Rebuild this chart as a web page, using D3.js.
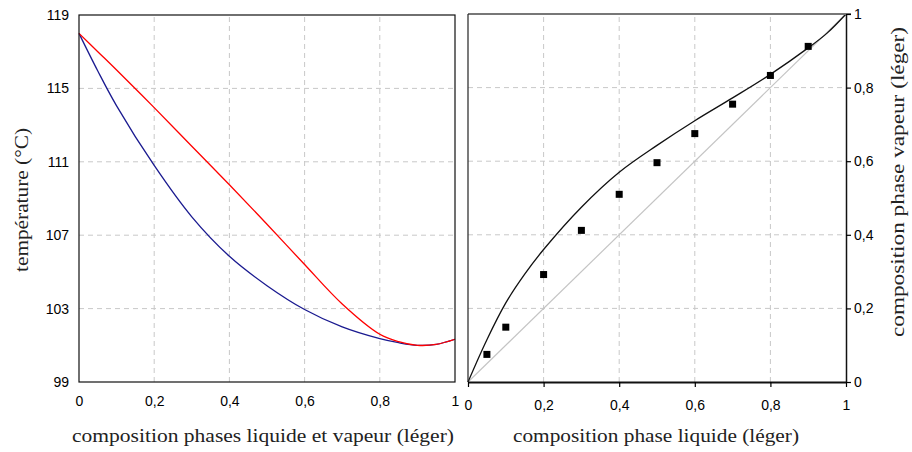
<!DOCTYPE html>
<html>
<head>
<meta charset="utf-8">
<script src="https://cdn.jsdelivr.net/npm/d3@7"></script>
<style>
	body { margin: 0; background: #fff; }
	.tick-label { font-family: "Liberation Sans", Arial, sans-serif; font-size: 14px; fill: #000; }
	.titre { font-family: "Liberation Serif", "DejaVu Serif", serif; font-size: 19px; fill: #222; }
	.grille { stroke: #c8c8c8; stroke-width: 1; stroke-dasharray: 5,4; fill: none; }
</style>
</head>
<body>
<svg id="chart" width="912" height="452"></svg>
<script>
/* global d3 */

// composition en leger (abscisse commune des deux courbes de temperature)
var compo = [0, 0.05, 0.1, 0.2, 0.3, 0.4, 0.5, 0.6, 0.7, 0.8, 0.85, 0.9, 0.95, 1];
var tempRosee = [118.0, 117.0, 116.0, 113.95, 111.85, 109.75, 107.6, 105.4, 103.25, 101.6, 101.2, 101.0, 101.05, 101.33];
var tempBulle = [118.0, 115.95, 114.05, 110.8, 108.0, 105.85, 104.25, 102.95, 102.0, 101.36, 101.14, 101.0, 101.05, 101.33];

// courbe d'equilibre y = f(x)
var xEquil = [0, 0.05, 0.1, 0.15, 0.2, 0.3, 0.4, 0.5, 0.6, 0.7, 0.8, 0.9, 0.95, 1];
var yEquil = [0, 0.115, 0.215, 0.293, 0.36, 0.475, 0.57, 0.643, 0.71, 0.772, 0.836, 0.908, 0.948, 1];

// points mesures
var xMesure = [0.05, 0.1, 0.2, 0.3, 0.4, 0.5, 0.6, 0.7, 0.8, 0.9];
var yMesure = [0.075, 0.149, 0.292, 0.412, 0.51, 0.596, 0.675, 0.755, 0.833, 0.912];

var tempTicks = [99, 103, 107, 111, 115, 119];
var compoTicks = [0, 0.2, 0.4, 0.6, 0.8, 1];

var svg = d3.select("#chart"),
	fr = d3.formatLocale({ decimal: ",", thousands: " ", grouping: [3], currency: ["", " €"] }),
	fmt = fr.format("~g"),
	courbe = d3.curveCatmullRom.alpha(0.5);

function zip(xs, ys) {
	return xs.map(function(x, i) { return [x, ys[i]]; });
}

// ---------- graphe de gauche : temperatures ----------
var xG = d3.scaleLinear().domain([0, 1]).range([79, 455]),
	yG = d3.scaleLinear().domain([99, 119]).range([382, 15]);

var gauche = svg.append("g");

gauche.selectAll("line.v")
	.data(compoTicks.slice(1, -1))
	.enter().append("line")
	.attr("class", "grille")
	.attr("x1", function(d) { return xG(d); })
	.attr("x2", function(d) { return xG(d); })
	.attr("y1", yG(99))
	.attr("y2", yG(119));

gauche.selectAll("line.h")
	.data(tempTicks.slice(1, -1))
	.enter().append("line")
	.attr("class", "grille")
	.attr("x1", xG(0))
	.attr("x2", xG(1))
	.attr("y1", function(d) { return yG(d); })
	.attr("y2", function(d) { return yG(d); });

var ligneG = d3.line()
	.x(function(d) { return xG(d[0]); })
	.y(function(d) { return yG(d[1]); })
	.curve(courbe);

gauche.append("path")
	.datum(zip(compo, tempBulle))
	.attr("fill", "none")
	.attr("stroke", "#1a1a90")
	.attr("stroke-width", 1.3)
	.attr("d", ligneG);

gauche.append("path")
	.datum(zip(compo, tempRosee))
	.attr("fill", "none")
	.attr("stroke", "#ff0000")
	.attr("stroke-width", 1.3)
	.attr("d", ligneG);

gauche.append("rect")
	.attr("x", xG(0))
	.attr("y", yG(119))
	.attr("width", xG(1) - xG(0))
	.attr("height", yG(99) - yG(119))
	.attr("fill", "none")
	.attr("stroke", "#111")
	.attr("stroke-width", 1.2);

gauche.append("g")
	.attr("transform", "translate(" + (xG(0) - 10) + ",0)")
	.call(d3.axisLeft(yG).tickValues(tempTicks).tickSize(0).tickPadding(0).tickFormat(fmt))
	.call(function(g) { g.select(".domain").remove(); })
	.selectAll("text").attr("class", "tick-label").attr("font-size", null).attr("font-family", null);

gauche.append("g")
	.attr("transform", "translate(0," + (yG(99) + 14) + ")")
	.call(d3.axisBottom(xG).tickValues(compoTicks).tickSize(0).tickPadding(0).tickFormat(fmt))
	.call(function(g) { g.select(".domain").remove(); })
	.selectAll("text").attr("class", "tick-label").attr("font-size", null).attr("font-family", null);

gauche.append("text")
	.attr("class", "titre")
	.attr("x", 263)
	.attr("y", 442)
	.attr("text-anchor", "middle")
	.attr("textLength", 382)
	.attr("lengthAdjust", "spacingAndGlyphs")
	.text("composition phases liquide et vapeur (léger)");

gauche.append("text")
	.attr("class", "titre")
	.attr("transform", "translate(28,200) rotate(-90)")
	.attr("text-anchor", "middle")
	.attr("textLength", 144)
	.attr("lengthAdjust", "spacingAndGlyphs")
	.text("température (°C)");

// ---------- graphe de droite : equilibre x-y ----------
var xD = d3.scaleLinear().domain([0, 1]).range([468, 846]),
	yD = d3.scaleLinear().domain([0, 1]).range([382, 14]);

var droite = svg.append("g");

droite.selectAll("line.v")
	.data(compoTicks.slice(1, -1))
	.enter().append("line")
	.attr("class", "grille")
	.attr("x1", function(d) { return xD(d); })
	.attr("x2", function(d) { return xD(d); })
	.attr("y1", yD(0))
	.attr("y2", yD(1));

droite.selectAll("line.h")
	.data(compoTicks.slice(1, -1))
	.enter().append("line")
	.attr("class", "grille")
	.attr("x1", xD(0))
	.attr("x2", xD(1))
	.attr("y1", function(d) { return yD(d); })
	.attr("y2", function(d) { return yD(d); });

// diagonale y = x
droite.append("line")
	.attr("x1", xD(0)).attr("y1", yD(0))
	.attr("x2", xD(1)).attr("y2", yD(1))
	.attr("stroke", "#c4c4c4")
	.attr("stroke-width", 1.2);

droite.append("path")
	.datum(zip(xEquil, yEquil))
	.attr("fill", "none")
	.attr("stroke", "#111")
	.attr("stroke-width", 1.3)
	.attr("d", d3.line()
		.x(function(d) { return xD(d[0]); })
		.y(function(d) { return yD(d[1]); })
		.curve(courbe));

droite.selectAll("rect.pt")
	.data(zip(xMesure, yMesure))
	.enter().append("rect")
	.attr("x", function(d) { return xD(d[0]) - 3.5; })
	.attr("y", function(d) { return yD(d[1]) - 3.5; })
	.attr("width", 7)
	.attr("height", 7)
	.attr("fill", "#000");

// cadre : haut gris, gauche noir
droite.append("line")
	.attr("x1", xD(0)).attr("x2", xD(1) + 5)
	.attr("y1", yD(1)).attr("y2", yD(1))
	.attr("stroke", "#777")
	.attr("stroke-width", 2);

droite.append("line")
	.attr("x1", xD(0)).attr("x2", xD(0))
	.attr("y1", yD(0)).attr("y2", yD(1))
	.attr("stroke", "#222")
	.attr("stroke-width", 1.2);

droite.append("g")
	.attr("transform", "translate(0," + yD(0) + ")")
	.call(d3.axisBottom(xD).tickValues(compoTicks).tickSize(5).tickSizeOuter(0).tickPadding(13).tickFormat(fmt))
	.call(function(g) {
		g.select(".domain").attr("stroke-width", 2).attr("stroke", "#111");
		g.selectAll(".tick line").attr("stroke-width", 1.2);
	})
	.selectAll("text").attr("class", "tick-label").attr("font-size", null).attr("font-family", null);

droite.append("g")
	.attr("transform", "translate(" + xD(1) + ",0)")
	.call(d3.axisRight(yD).tickValues(compoTicks).tickSize(5).tickSizeOuter(0).tickPadding(3).tickFormat(fmt))
	.call(function(g) {
		g.select(".domain").attr("stroke-width", 1.5).attr("stroke", "#111");
		g.selectAll(".tick line").attr("stroke-width", 1.2);
	})
	.selectAll("text").attr("class", "tick-label").attr("font-size", null).attr("font-family", null);

droite.append("text")
	.attr("class", "titre")
	.attr("x", 656)
	.attr("y", 442)
	.attr("text-anchor", "middle")
	.attr("textLength", 286)
	.attr("lengthAdjust", "spacingAndGlyphs")
	.text("composition phase liquide (léger)");

droite.append("text")
	.attr("class", "titre")
	.attr("transform", "translate(904,182) rotate(-90)")
	.attr("text-anchor", "middle")
	.attr("textLength", 310)
	.attr("lengthAdjust", "spacingAndGlyphs")
	.text("composition phase vapeur (léger)");
</script>
</body>
</html>
